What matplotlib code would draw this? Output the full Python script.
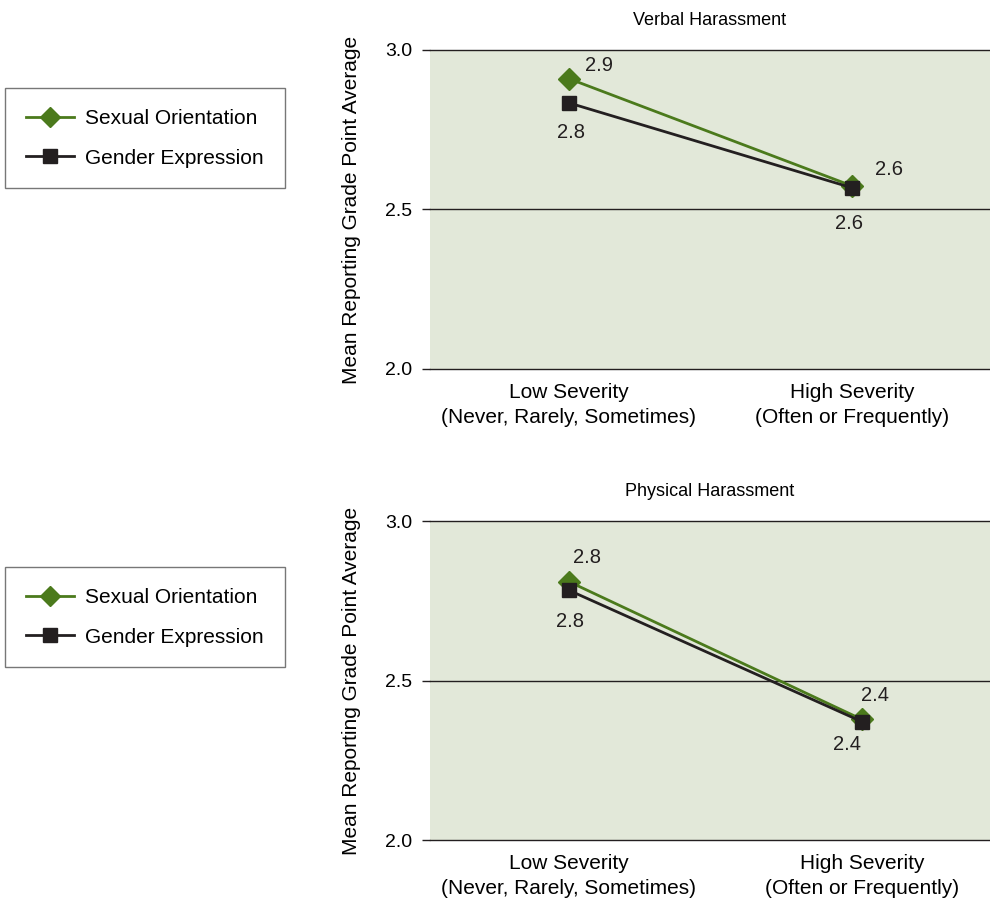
import numpy as np
import matplotlib.pyplot as plt
from matplotlib.lines import Line2D

plt.rcParams['font.family'] = ['Liberation Sans', 'DejaVu Sans']

categories = ['Low Severity\n(Never, Rarely, Sometimes)', 'High Severity\n(Often or Frequently)']
titles = ['Verbal Harassment', 'Physical Harassment']
series_names = ['Sexual Orientation', 'Gender Expression']

# values
verbal_so = [2.91, 2.574]
verbal_ge = [2.834, 2.568]
physical_so = [2.81, 2.378]
physical_ge = [2.783, 2.371]

verbal_so_lbl = ['2.9', '2.6']
verbal_ge_lbl = ['2.8', '2.6']
physical_so_lbl = ['2.8', '2.4']
physical_ge_lbl = ['2.8', '2.4']

green = '#4b7a1c'
dark = '#231f20'
bg = '#e2e8d9'

fig = plt.figure(figsize=(9.9, 9.05), dpi=100)

# label offsets in pixels (dx, dy downwards)
panels = [
    (titles[0], verbal_so, verbal_ge, verbal_so_lbl, verbal_ge_lbl, 0.5923, 88, (-0.491, 1.488),
     [(30, -13), (37, -16)], [(2, 30), (-3, 36)]),
    (titles[1], physical_so, physical_ge, physical_so_lbl, physical_ge_lbl, 0.0718, 567, (-0.474, 1.437),
     [(18, -24), (13, -24)], [(1, 31), (-15, 23)]),
]

x = np.arange(len(categories))
for title, so, ge, so_lbl, ge_lbl, bottom, leg_top, xl, so_off, ge_off in panels:
    ax = fig.add_axes([0.4343, bottom, 0.5657, 0.3525])
    ax.set_facecolor(bg)
    for s in ax.spines.values():
        s.set_visible(False)
    ax.set_xlim(*xl)
    ax.set_ylim(2.0, 3.0)
    ax.set_yticks([2.0, 2.5, 3.0])
    ax.set_yticklabels(['2.0', '2.5', '3.0'], fontsize=14)
    for yv in [2.0, 2.5, 3.0]:
        ax.axhline(yv, color=dark, lw=1.0, zorder=1, clip_on=False)
    ax.tick_params(axis='y', length=6, width=1.0, color=dark, pad=7)
    ax.tick_params(axis='x', length=0, pad=10)
    ax.set_xticks(x)
    ax.set_xticklabels(categories, fontsize=15, linespacing=1.4)
    ax.set_title(title, fontsize=13, pad=18)
    ax.set_ylabel('Mean Reporting Grade Point Average', fontsize=15, labelpad=17)

    ax.plot(x, so, color=green, lw=2, marker='D', markersize=11, zorder=3)
    ax.plot(x, ge, color=dark, lw=2, marker='s', markersize=10.5, zorder=4)
    for i in range(len(x)):
        ax.annotate(so_lbl[i], (x[i], so[i]), xytext=(so_off[i][0], -so_off[i][1]),
                    textcoords='offset pixels', fontsize=14.5, ha='center', va='center', color=dark)
        ax.annotate(ge_lbl[i], (x[i], ge[i]), xytext=(ge_off[i][0], -ge_off[i][1]),
                    textcoords='offset pixels', fontsize=14.5, ha='center', va='center', color=dark)

    handles = [Line2D([], [], color=green, lw=2, marker='D', markersize=10),
               Line2D([], [], color=dark, lw=2, marker='s', markersize=9.5)]
    leg = fig.legend(handles, series_names, loc='upper left',
                     bbox_to_anchor=(5 / 990, 1 - leg_top / 905),
                     fontsize=15, frameon=True, fancybox=False, borderpad=1.0,
                     handlelength=2.3, handletextpad=0.55, labelspacing=1.0, borderaxespad=0)
    leg.get_frame().set_edgecolor('#555555')
    leg.get_frame().set_linewidth(1.0)

fig.savefig('out.png', dpi=100)
